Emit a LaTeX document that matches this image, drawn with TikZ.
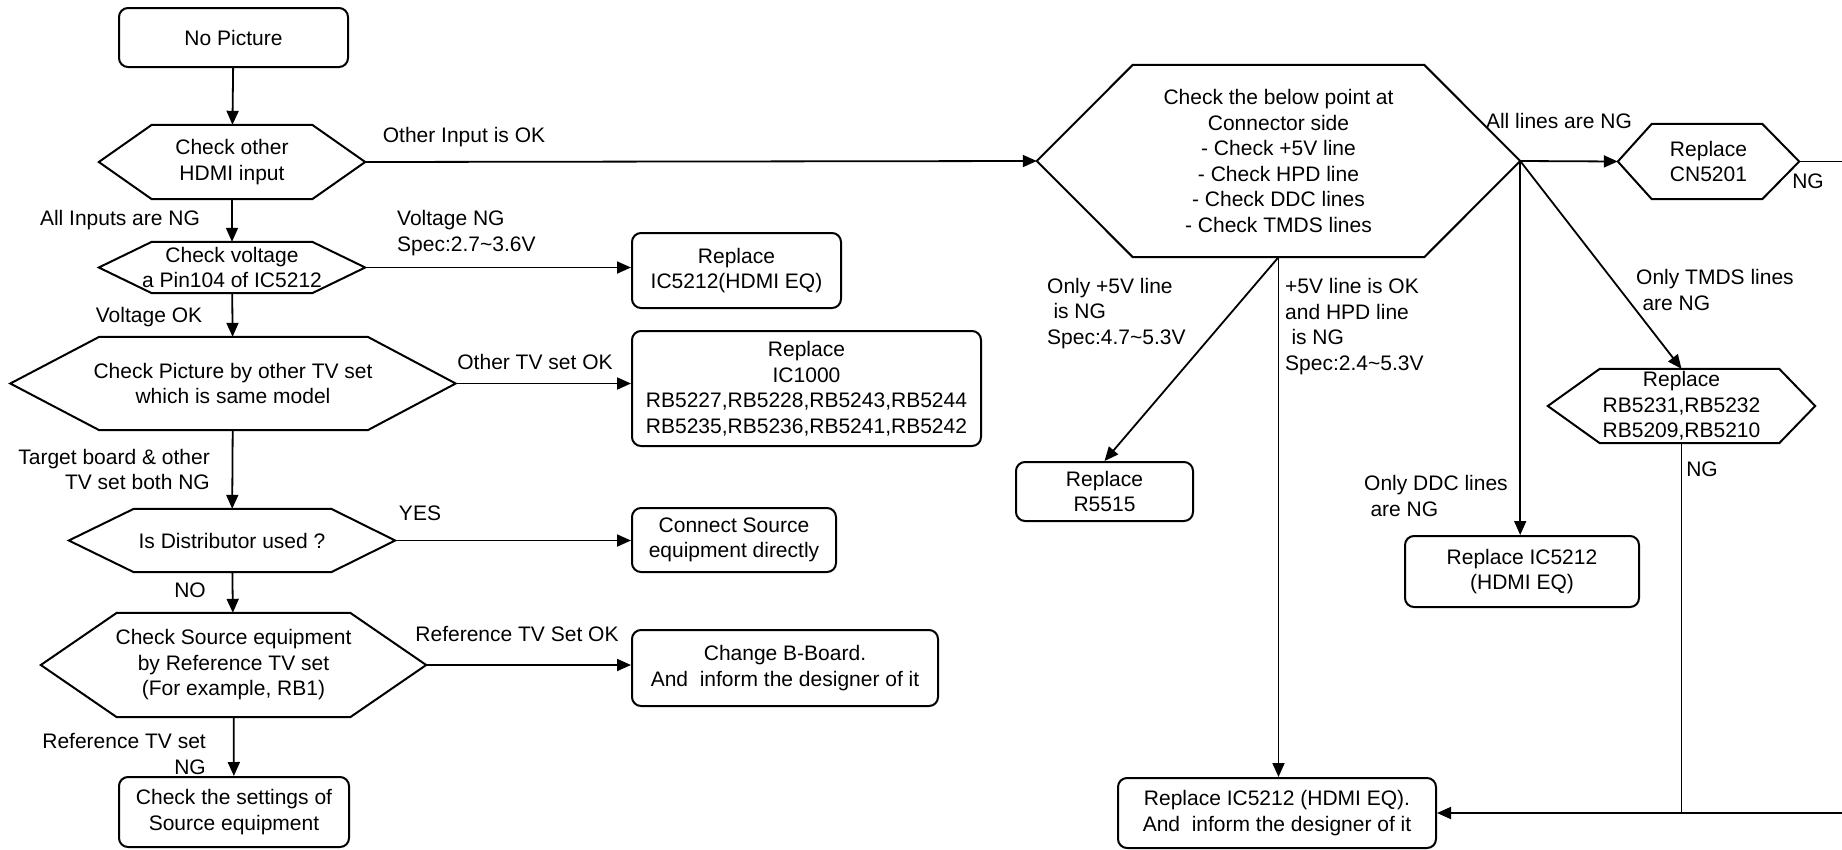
\documentclass[tikz,border=0pt]{standalone}
\usepackage{fontspec}
\setmainfont{Liberation Sans}
\usetikzlibrary{arrows.meta}

% hexagon round a plain node: name, left inset, right inset
\newcommand{\hexframe}[3]{%
  \draw[line width=2pt] (#1.west) -- ([xshift=#2]#1.north west)
    -- ([xshift=-#3]#1.north east) -- (#1.east)
    -- ([xshift=-#3]#1.south east) -- ([xshift=#2]#1.south west) -- cycle;}

\begin{document}
\begin{tikzpicture}[x=1pt, y=-1pt,
          font=\fontsize{21}{25.5}\selectfont,
          bx/.style={rectangle, draw, line width=2pt, rounded corners=9pt,
                     inner sep=0pt, align=center},
          hx/.style={rectangle, inner sep=0pt, align=center},
          lbl/.style={inner sep=0pt, align=left},
          arr/.style={-{Triangle[length=14pt, width=12pt]}, line width=1.8pt},
          ln/.style={line width=1.8pt}
        ]
        \useasboundingbox (0,0) rectangle (1842,849);

        % Left column
        \node[bx, minimum width=229pt, minimum height=59pt]
              (start) at (233.5,37.5) {No Picture};
        \node[hx, minimum width=266pt, minimum height=74pt]
              (hexOther) at (232,162) {Check other\\HDMI input};
        \node[hx, minimum width=266pt, minimum height=51pt]
              (hexVolt) at (232,267.5) {Check voltage\\a Pin104 of IC5212};
        \node[hx, minimum width=445pt, minimum height=93pt]
              (hexPic) at (233,383.5) {Check Picture by other TV set\\which is same model};
        \node[hx, minimum width=326pt, minimum height=63pt]
              (hexDist) at (232,540.5) {Is Distributor used ?};
        \node[hx, minimum width=385pt, minimum height=104pt]
              (hexSrc) at (233.5,665) {Check Source equipment\\by Reference TV set\\(For example, RB1)};
        \node[bx, minimum width=230pt, minimum height=70pt]
              (boxSet) at (234,812) {Check the settings of\\Source equipment};

        % Middle column
        \node[bx, minimum width=209pt, minimum height=75pt]
              (boxEQ) at (736.5,270.5) {Replace\\IC5212(HDMI EQ)};
        \node[bx, minimum width=349pt, minimum height=115pt]
              (boxIC) at (806.5,388.5) {Replace\\IC1000\\RB5227,RB5228,RB5243,RB5244\\RB5235,RB5236,RB5241,RB5242};
        \node[bx, minimum width=204pt, minimum height=64pt]
              (boxDirect) at (734,540) {Connect Source\\equipment directly};
        \node[bx, minimum width=306pt, minimum height=76pt]
              (boxBoard) at (785,668) {Change B-Board.\\And\ \ inform the designer of it};

        % Connector side
        \node[hx, minimum width=483pt, minimum height=192pt]
              (hexConn) at (1278.5,161) {Check the below point at\\Connector side\\- Check +5V line\\- Check HPD line\\- Check DDC lines\\- Check TMDS lines};
        \node[hx, minimum width=181pt, minimum height=75pt]
              (hexCN) at (1708.5,161.5) {Replace\\CN5201};
        \node[hx, minimum width=267pt, minimum height=74pt]
              (hexRB) at (1681.5,406) {Replace\\RB5231,RB5232\\RB5209,RB5210};
        \node[bx, minimum width=177pt, minimum height=59pt]
              (boxR) at (1104.5,491.5) {Replace\\R5515};
        \node[bx, minimum width=234pt, minimum height=71pt]
              (boxDDC) at (1522,571.5) {Replace IC5212\\(HDMI EQ)};
        \node[bx, minimum width=318pt, minimum height=70pt]
              (boxFinal) at (1277,813) {Replace IC5212 (HDMI EQ).\\And\ \ inform the designer of it};

        \hexframe{hexOther}{53pt}{53pt}
        \hexframe{hexVolt}{53pt}{53pt}
        \hexframe{hexPic}{89pt}{88pt}
        \hexframe{hexDist}{65pt}{64pt}
        \hexframe{hexSrc}{76pt}{76pt}
        \hexframe{hexConn}{96pt}{96pt}
        \hexframe{hexCN}{34pt}{37pt}
        \hexframe{hexRB}{52pt}{36pt}

        % Labels
        \node[lbl] (lOther) at (464,137) {Other Input is OK};
        \node[lbl] (lAllIn) at (120,220) {All Inputs are NG};
        \node[lbl, anchor=west] (lVoltNG) at (397,233) {Voltage NG\\Spec:2.7\textasciitilde 3.6V};
        \node[lbl] (lVoltOK) at (149,317) {Voltage OK};
        \node[lbl] (lTVok) at (535,362) {Other TV set OK};
        \node[lbl, align=right, anchor=east] (lBoth) at (210,469.5) {Target board \& other\\TV set both NG};
        \node[lbl] (lYes) at (420,513) {YES};
        \node[lbl] (lNo) at (190,590) {NO};
        \node[lbl] (lRefOK) at (517,634) {Reference TV Set OK};
        \node[lbl, align=right, anchor=east] (lRefNG) at (206,754) {Reference TV set\\NG};
        \node[lbl] (lAllLines) at (1559,121) {All lines are NG};
        \node[lbl] (lCNng) at (1808,181) {NG};
        \node[lbl, anchor=west] (l5V) at (1047,313.5) {Only +5V line\\\hspace*{0.3em}is NG\\Spec:4.7\textasciitilde 5.3V};
        \node[lbl, anchor=west] (lHPD) at (1285,326.5) {+5V line is OK\\and HPD line\\\hspace*{0.3em}is NG\\Spec:2.4\textasciitilde 5.3V};
        \node[lbl, anchor=west] (lTMDS) at (1636,290) {Only TMDS lines\\\hspace*{0.3em}are NG};
        \node[lbl, anchor=west] (lDDC) at (1364,496) {Only DDC lines\\\hspace*{0.3em}are NG};
        \node[lbl] (lRBng) at (1702,469) {NG};

        % off the right edge
        \coordinate (rimTop) at (1860,161.5);
        \coordinate (rimBot) at (1860,813);

        \draw[arr] (start)    -- (hexOther);
        \draw[arr] (hexOther) -- (hexVolt);
        \draw[arr] (hexVolt)  -- (hexPic);
        \draw[arr] (hexPic)   -- (hexDist);
        \draw[arr] (hexDist)  -- (hexSrc);
        \draw[arr] (hexSrc)   -- (boxSet);
        \draw[arr] (hexOther.east) -- (hexConn.west);
        \draw[arr] (hexVolt.east)  -- (hexVolt.east -| boxEQ.west);
        \draw[arr] (hexPic.east)   -- (hexPic.east -| boxIC.west);
        \draw[arr] (hexDist.east)  -- (hexDist.east -| boxDirect.west);
        \draw[arr] (hexSrc.east)   -- (hexSrc.east -| boxBoard.west);
        \draw[arr] (hexConn.east)  -- (hexCN.west);
        \draw[arr] (hexConn.east)  -- (hexConn.east |- boxDDC.north);
        \draw[arr] (hexConn.east)  -- (hexRB.north);
        \draw[arr] (hexConn.south) -- (boxR.north);
        \draw[arr] (hexConn.south) -- (hexConn.south |- boxFinal.north);
        \draw[ln]  (hexCN.east) -- (rimTop) -- (rimBot);
        \draw[arr] (rimBot) -- (boxFinal.east);
        \draw[ln]  (hexRB.south) -- (hexRB.south |- boxFinal.east);
      \end{tikzpicture}
\end{document}
